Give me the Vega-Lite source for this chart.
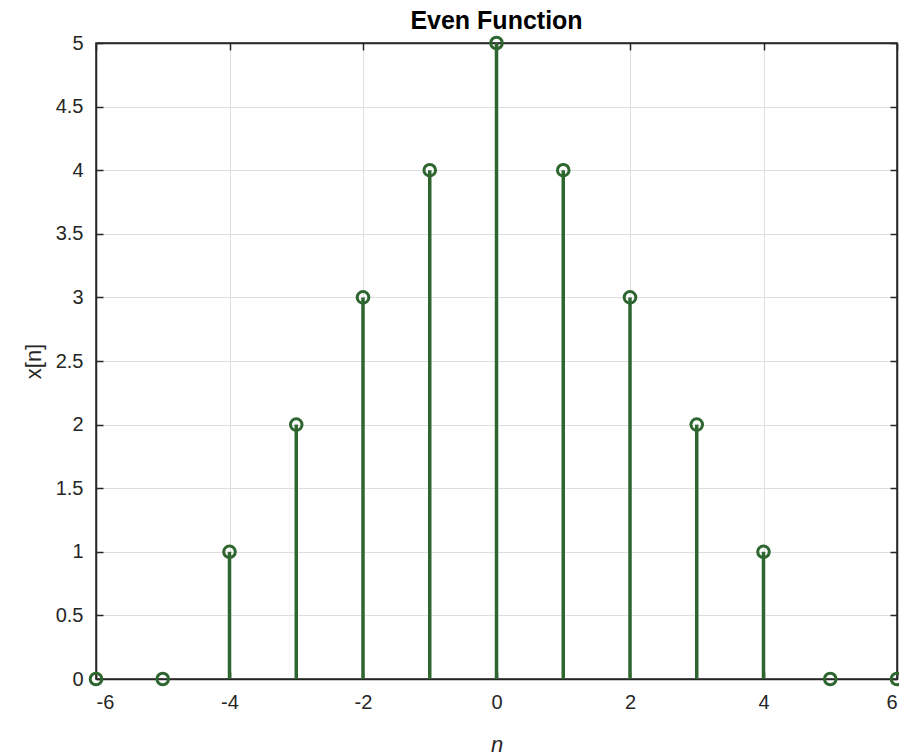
{
  "$schema": "https://vega.github.io/schema/vega-lite/v6.json",
  "width": 801,
  "height": 636,
  "autosize": {"type": "none"},
  "padding": {"left": 96, "top": 43, "right": 2, "bottom": 76},
  "background": "white",
  "title": {
    "text": "Even Function",
    "font": "Liberation Sans",
    "fontSize": 25,
    "fontWeight": "bold",
    "color": "#000000",
    "anchor": "middle",
    "offset": -3
  },
  "data": {
    "values": [
      {"n": -6, "x": 0},
      {"n": -5, "x": 0},
      {"n": -4, "x": 1},
      {"n": -3, "x": 2},
      {"n": -2, "x": 3},
      {"n": -1, "x": 4},
      {"n": 0, "x": 5},
      {"n": 1, "x": 4},
      {"n": 2, "x": 3},
      {"n": 3, "x": 2},
      {"n": 4, "x": 1},
      {"n": 5, "x": 0},
      {"n": 6, "x": 0}
    ]
  },
  "layer": [
    {
      "mark": {"type": "rule", "color": "#2e6630", "strokeWidth": 3.5},
      "encoding": {
        "x": {
          "field": "n", "type": "quantitative",
          "scale": {"domain": [-6, 6], "nice": false, "zero": false},
          "axis": {
            "orient": "bottom",
            "values": [-6, -4, -2, 0, 2, 4, 6],
            "labelExpr": "'' + datum.value",
            "title": "n",
            "titleFontStyle": "italic",
            "titleFontWeight": "normal",
            "titleFont": "Liberation Sans",
            "titleFontSize": 22,
            "titleColor": "#262626",
            "titlePadding": 22,
            "tickSize": -7,
            "labelPadding": 20
          }
        },
        "y": {
          "field": "x", "type": "quantitative",
          "scale": {"domain": [0, 5], "nice": false},
          "axis": {
            "orient": "left",
            "values": [0, 0.5, 1, 1.5, 2, 2.5, 3, 3.5, 4, 4.5, 5],
            "format": "~g",
            "title": "x[n]",
            "titleFont": "Liberation Sans",
            "titleFontWeight": "normal",
            "titleFontSize": 22,
            "titleColor": "#262626",
            "titlePadding": 10,
            "tickSize": -7,
            "labelPadding": 20
          }
        },
        "y2": {"datum": 0}
      }
    },
    {
      "mark": {"type": "point", "shape": "circle", "filled": false, "color": "#2e6630", "strokeWidth": 3, "size": 135, "opacity": 1},
      "encoding": {
        "x": {
          "field": "n", "type": "quantitative",
          "axis": {"orient": "top", "values": [-6, -4, -2, 0, 2, 4, 6], "labels": false, "title": null, "grid": false, "tickSize": -7}
        },
        "y": {
          "field": "x", "type": "quantitative",
          "axis": {"orient": "right", "values": [0, 0.5, 1, 1.5, 2, 2.5, 3, 3.5, 4, 4.5, 5], "labels": false, "title": null, "grid": false, "tickSize": -7}
        }
      }
    }
  ],
  "config": {
    "view": {"stroke": "#262626", "strokeWidth": 1.5},
    "axis": {
      "domainColor": "#262626",
      "domainWidth": 1.5,
      "tickColor": "#262626",
      "tickWidth": 1.5,
      "labelFont": "Liberation Sans",
      "labelFontSize": 20,
      "labelColor": "#262626",
      "grid": true,
      "gridColor": "#dedede",
      "gridWidth": 1
    }
  }
}
